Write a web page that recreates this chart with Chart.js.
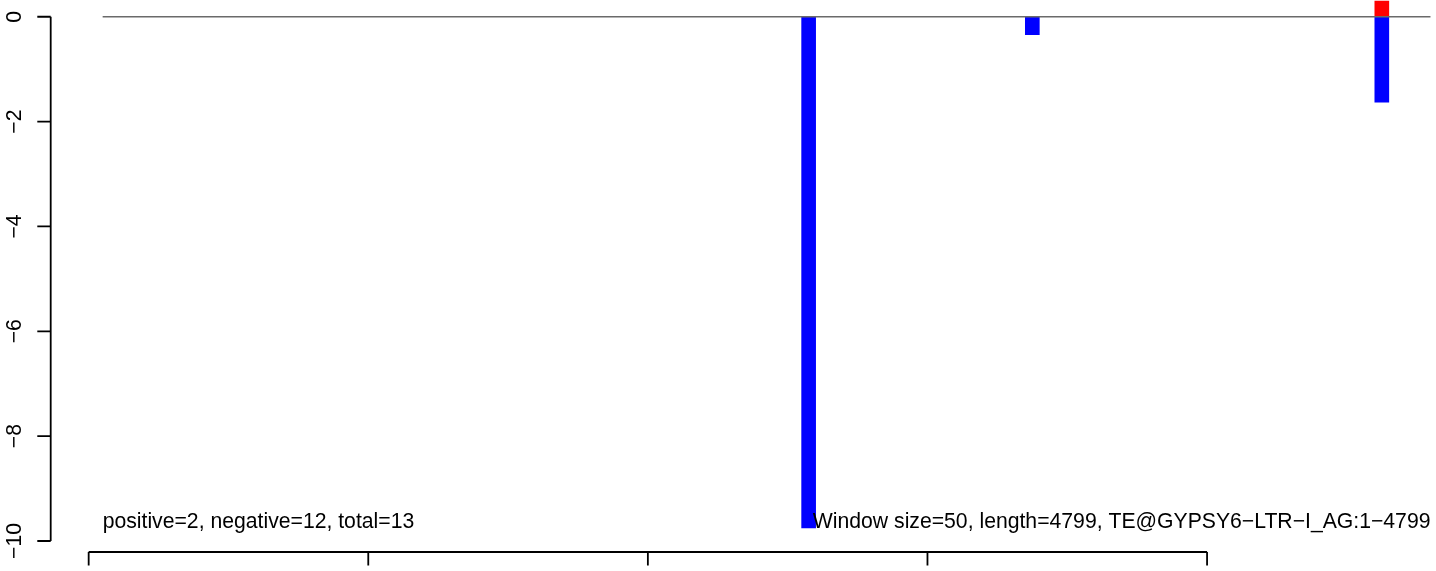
<!DOCTYPE html>
<html>
<head>
<meta charset="utf-8">
<script src="https://cdn.jsdelivr.net/npm/chart.js@4.4.1/dist/chart.umd.min.js"></script>
<style>
  html, body { margin: 0; padding: 0; background: #fff; }
  #wrap { width: 1436px; height: 571px; position: relative; }
</style>
</head>
<body>
<div id="wrap"><canvas id="chart"></canvas></div>
<script>
// window data
const windowSize = 50;
const seqLength = 4799;
const negStarts = [2550, 3350, 4600];
const negValues = [-9.75, -0.34, -1.63];
const posStarts = [4600];
const posValues = [1.75];
const yTicks = [0, -2, -4, -6, -8, -10];
const xTicks = [0, 1000, 2000, 3000, 4000];
const leftNote = 'positive=2, negative=12, total=13';
const rightNote = 'Window size=50, length=4799, TE@GYPSY6\u2212LTR\u2212I_AG:1\u22124799';

const FONT = '21.2px "Liberation Sans", Arial, sans-serif';

const toPoints = (starts, values) => starts.map((s, i) => ({ x: s + windowSize / 2, y: values[i] }));

// R-style axes drawn from the chart scales
const rAxes = {
  id: 'rAxes',
  afterDraw(chart) {
    const { ctx, chartArea, scales } = chart;
    const x = scales.x;
    const y = scales.y;
    const tickLen = 13.4;
    ctx.save();
    ctx.strokeStyle = '#000';
    ctx.lineWidth = 1.8;
    ctx.fillStyle = '#000';
    ctx.font = FONT;

    // y axis
    const ax = chartArea.left;
    ctx.beginPath();
    ctx.moveTo(ax, y.getPixelForValue(yTicks[0]));
    ctx.lineTo(ax, y.getPixelForValue(yTicks[yTicks.length - 1]));
    yTicks.forEach((t) => {
      const py = y.getPixelForValue(t);
      ctx.moveTo(ax - tickLen, py);
      ctx.lineTo(ax, py);
    });
    ctx.stroke();
    ctx.textAlign = 'center';
    ctx.textBaseline = 'alphabetic';
    yTicks.forEach((t) => {
      const py = y.getPixelForValue(t);
      ctx.save();
      ctx.translate(ax - 30.2, py);
      ctx.rotate(-Math.PI / 2);
      ctx.fillText(String(t).replace('-', '\u2212'), 0, 0);
      ctx.restore();
    });

    // x axis
    const ay = chartArea.bottom;
    ctx.beginPath();
    ctx.moveTo(x.getPixelForValue(xTicks[0]), ay);
    ctx.lineTo(x.getPixelForValue(xTicks[xTicks.length - 1]), ay);
    xTicks.forEach((t) => {
      const px = x.getPixelForValue(t);
      ctx.moveTo(px, ay);
      ctx.lineTo(px, ay + tickLen);
    });
    ctx.stroke();
    ctx.textBaseline = 'top';
    xTicks.forEach((t) => {
      ctx.fillText(String(t), x.getPixelForValue(t), ay + 25);
    });

    // notes
    const ny = y.getPixelForValue(Math.min(...negValues));
    ctx.textBaseline = 'alphabetic';
    ctx.textAlign = 'left';
    ctx.fillText(leftNote, x.getPixelForValue(windowSize), ny);
    ctx.textAlign = 'right';
    ctx.fillText(rightNote, x.getPixelForValue(seqLength), ny);
    ctx.restore();
  }
};

const chart = new Chart(document.getElementById('chart'), {
  type: 'bar',
  data: {
    datasets: [
      {
        type: 'line',
        data: [{ x: windowSize, y: 0 }, { x: seqLength, y: 0 }],
        borderColor: '#6a6a6a',
        borderWidth: 1.5,
        pointRadius: 0,
        order: 0,
      },
      {
        label: 'positive',
        data: toPoints(posStarts, posValues),
        backgroundColor: '#ff0000',
        borderWidth: 0,
        grouped: false,
        order: 1,
      },
      {
        label: 'negative',
        data: toPoints(negStarts, negValues),
        backgroundColor: '#0000ff',
        borderWidth: 0,
        grouped: false,
        order: 1,
      },
    ],
  },
  options: {
    responsive: true,
    maintainAspectRatio: false,
    animation: false,
    layout: { padding: { left: 50.7, top: 0, right: 0, bottom: 19 } },
    plugins: { legend: { display: false }, tooltip: { enabled: false } },
    scales: {
      x: { type: 'linear', offset: false, min: -135.8, max: 4816.1, display: false },
      y: { type: 'linear', min: -10.21, max: 0.305, display: false },
    },
  },
  plugins: [rAxes],
});

// bar width = one window on the x scale
const xs = chart.scales.x;
const barW = xs.getPixelForValue(windowSize) - xs.getPixelForValue(0);
chart.data.datasets.forEach((ds) => {
  if (ds.type !== 'line') ds.barThickness = barW;
});
chart.update('none');
</script>
</body>
</html>
